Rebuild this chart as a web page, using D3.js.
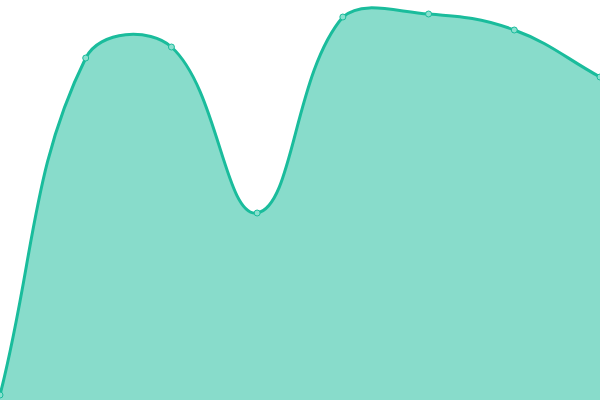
<!DOCTYPE html>
<html>
<head>
<meta charset="utf-8">
<script src="https://cdn.jsdelivr.net/npm/d3@7"></script>
<style>
  html, body { margin: 0; padding: 0; background: #fff; }
  svg { display: block; }
</style>
</head>
<body>
<svg id="chart" width="600" height="400"></svg>
<script>
// ── data ──
const categories = [0, 1, 2, 3, 4, 5, 6, 7];
const values     = [5, 342, 353, 187, 383, 386, 370, 323];

const W = 600, H = 400;
const LINE = "#1abc9c";
const TENSION = 0.4;

const svg = d3.select("#chart");

const x = d3.scaleLinear()
  .domain(d3.extent(categories))
  .range([0, W]);

const y = d3.scaleLinear()
  .domain([0, 400])
  .range([H, 0]);

const pts = categories.map((c, i) => ({ x: x(c), y: y(values[i]) }));

// distance-weighted bezier control points (tension spline)
pts.forEach((p, i) => {
  const prev = pts[i - 1] || p, next = pts[i + 1] || p;
  const d01 = Math.hypot(p.x - prev.x, p.y - prev.y);
  const d12 = Math.hypot(next.x - p.x, next.y - p.y);
  const sum = d01 + d12 || 1;
  const fa = TENSION * d01 / sum, fb = TENSION * d12 / sum;
  const clampY = v => Math.max(0, Math.min(H, v));
  p.cp1x = p.x - fa * (next.x - prev.x);
  p.cp1y = clampY(p.y - fa * (next.y - prev.y));
  p.cp2x = p.x + fb * (next.x - prev.x);
  p.cp2y = clampY(p.y + fb * (next.y - prev.y));
});

function linePath() {
  const path = d3.path();
  path.moveTo(pts[0].x, pts[0].y);
  for (let i = 1; i < pts.length; i++) {
    const a = pts[i - 1], b = pts[i];
    path.bezierCurveTo(a.cp2x, a.cp2y, b.cp1x, b.cp1y, b.x, b.y);
  }
  return path.toString();
}

const lineD = linePath();
const areaD = lineD + `L${pts[pts.length - 1].x},${y(0)}L${pts[0].x},${y(0)}Z`;

svg.append("path")
  .attr("d", areaD)
  .attr("fill", LINE)
  .attr("fill-opacity", 0.52);

svg.append("path")
  .attr("d", lineD)
  .attr("fill", "none")
  .attr("stroke", LINE)
  .attr("stroke-width", 3);

svg.selectAll(".pt")
  .data(pts)
  .join("circle")
    .attr("class", "pt")
    .attr("cx", d => d.x)
    .attr("cy", d => d.y)
    .attr("r", 3)
    .attr("fill", "#8ae0cf")
    .attr("stroke", LINE)
    .attr("stroke-width", 1);
</script>
</body>
</html>
